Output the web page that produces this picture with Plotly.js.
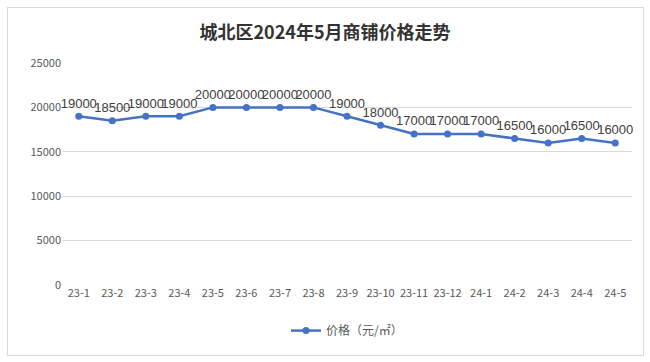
<!DOCTYPE html>
<html><head><meta charset="utf-8">
<script src="https://cdn.plot.ly/plotly-3.0.1.min.js"></script>
<style>body{margin:0;background:#fff}#wrap{position:relative;width:650px;height:362px}
#frame{position:absolute;left:7px;top:7px;width:635px;height:347px;border:1px solid #d9d9d9;pointer-events:none}</style>
</head><body><div id="wrap"><div id="chart" style="width:650px;height:362px"></div><div id="frame"></div></div>
<script>
const categories = ["23-1","23-2","23-3","23-4","23-5","23-6","23-7","23-8","23-9","23-10","23-11","23-12","24-1","24-2","24-3","24-4","24-5"];
const prices = [19000,18500,19000,19000,20000,20000,20000,20000,19000,18000,17000,17000,17000,16500,16000,16500,16000];
const seriesName = "价格（元/㎡）";
const chartTitle = "城北区2024年5月商铺价格走势";

const font = "'Noto Sans CJK SC', 'Liberation Sans', sans-serif";
Plotly.newPlot("chart", [{
  x: categories, y: prices, type: "scatter", mode: "lines+markers+text",
  name: seriesName, text: prices.map(String), textposition: "top center",
  textfont: {size: 13, color: "#404040", family: "'Liberation Sans', sans-serif"},
  line: {color: "#4472C4", width: 2.5}, marker: {color: "#4472C4", size: 7},
  cliponaxis: false
}], {
  width: 650, height: 362, paper_bgcolor: "#fff", plot_bgcolor: "#fff",
  margin: {l: 62, r: 18, t: 63, b: 77, autoexpand: false},
  title: {text: "<b>" + chartTitle + "</b>", x: 0.5, xanchor: "center", y: 0.91, yanchor: "middle",
          font: {size: 18, color: "#333333", family: "'Noto Sans CJK SC', serif"}},
  xaxis: {type: "category", range: [-0.5, 16.5], showgrid: false, showline: false, zeroline: false,
          ticks: "", tickfont: {size: 11, color: "#595959", family: font}, tickangle: 0},
  yaxis: {range: [0, 25000], dtick: 5000, tickformat: "d", gridcolor: "#d9d9d9", gridwidth: 1, zeroline: false,
          showline: false, ticks: "", tickfont: {size: 11, color: "#595959", family: font}, ticklen: 8},
  showlegend: true,
  legend: {orientation: "h", x: 0.5, xanchor: "center", y: -0.14, yanchor: "top",
           font: {size: 12, color: "#595959", family: font}},
  font: {family: font}
}, {displayModeBar: false, staticPlot: true});
</script></body></html>
